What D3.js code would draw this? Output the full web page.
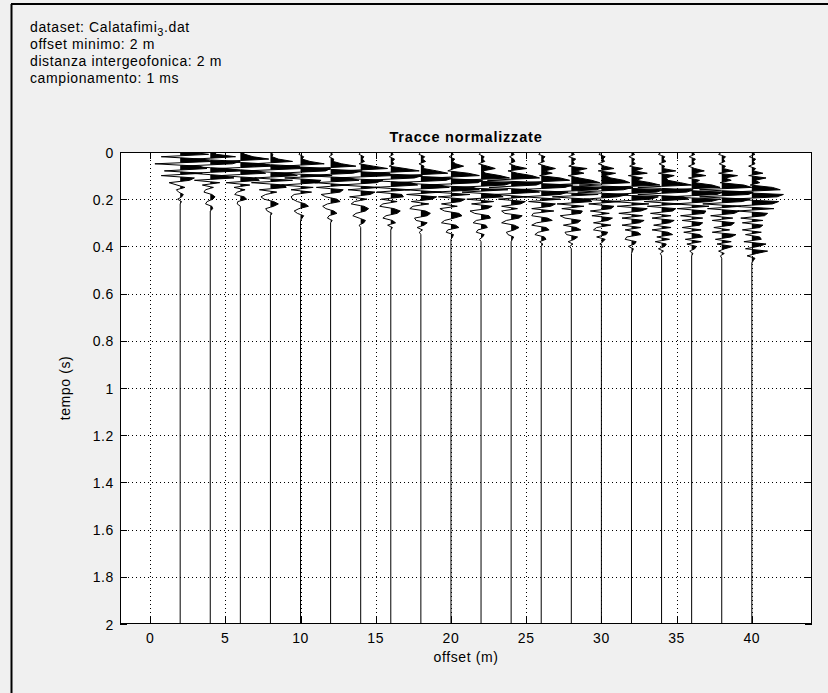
<!DOCTYPE html>
<html>
<head>
<meta charset="utf-8">
<script src="https://cdn.jsdelivr.net/npm/d3@7"></script>
<style>
html,body{margin:0;padding:0;background:#f0f0f0;}
svg{display:block;}
text{font-family:"Liberation Sans",Arial,sans-serif;fill:#000;}
</style>
</head>
<body>
<svg id="chart" width="828" height="693"></svg>
<script>
// ---- data ----
const infoLines = ["offset minimo: 2 m", "distanza intergeofonica: 2 m", "campionamento: 1 ms"];
const datasetName = "Calatafimi";
const datasetSub = "3";
const datasetExt = ".dat";
const titleText = "Tracce normalizzate";
const xLabel = "offset (m)";
const yLabel = "tempo (s)";
const xTicks = [0, 5, 10, 15, 20, 25, 30, 35, 40];
const yTicks = [0, 0.2, 0.4, 0.6, 0.8, 1, 1.2, 1.4, 1.6, 1.8, 2];
const xDomain = [-2, 44];
const yDomain = [0, 2];
const offsets = [2, 4, 6, 8, 10, 12, 14, 16, 18, 20, 22, 24, 26, 28, 30, 32, 34, 36, 38, 40];
const dt = 0.01;      // sample step of the arrays below (s)
const tMax = 2;       // record length (s)

// normalized amplitudes, one sample per dt from t = 0 (flat afterwards)
const tr02 = [0.3,0.9,-0.6,0.7,1.0,-0.8,0.6,0.85,-0.5,0.7,-0.6,0.45,0.3,-0.35,-0.1,0.15,-0.12,-0.05,0.1,0.05,-0.08,0.04,0];
const tr04 = [0.1,0.2,0.8,-0.5,0.95,0.7,-0.9,0.5,1.0,-0.6,0.4,0.75,-0.5,0.3,-0.25,0.1,-0.15,-0.2,0.05,0.15,0.08,-0.1,-0.15,0.05,0.08,0];
const tr06 = [0,0.15,0.4,0.9,-0.6,0.75,1.0,-0.7,0.55,0.8,-0.65,0.5,0.6,-0.45,0.3,-0.2,0.15,-0.1,-0.18,0.12,0.2,-0.08,-0.1,0];
const tr08 = [0,0.08,0.05,0.25,0.7,-0.55,0.9,1.0,-0.8,0.6,0.85,-0.5,0.7,-0.6,0.45,0.5,-0.35,0.2,-0.15,-0.3,-0.2,0.1,0.25,0.1,-0.15,-0.1,0.05,0];
const tr10 = [0,-0.05,0.1,0.05,0.3,0.75,-0.6,0.95,0.8,-0.7,1.0,-0.5,0.65,0.55,-0.6,0.4,-0.3,0.35,-0.2,-0.3,-0.25,-0.1,0.15,0.25,-0.05,-0.2,-0.1,0.1,0.05,0];
const tr12 = [0,0.06,-0.05,0.1,0.08,0.35,0.8,-0.6,1.0,0.7,-0.85,0.6,0.9,-0.5,0.55,-0.45,0.4,0.3,-0.3,-0.15,0.2,0.3,-0.1,-0.25,-0.15,0.1,0.2,-0.05,-0.1,0.05,0];
const tr14 = [0,-0.05,0.1,0.05,0.12,-0.05,0.4,0.85,-0.6,0.9,1.0,-0.8,0.7,0.5,-0.65,0.6,-0.4,0.45,0.3,-0.35,0.2,-0.2,-0.3,0.1,0.25,0.15,-0.15,-0.25,-0.05,0.15,0.1,-0.05,0];
const tr16 = [0,0.08,-0.05,0.12,0.05,0.1,-0.05,0.45,0.9,-0.7,1.0,0.75,-0.8,0.65,0.85,-0.5,0.6,-0.45,0.35,0.4,-0.3,0.2,-0.25,-0.35,0.1,0.3,0.2,-0.15,-0.25,0.05,0.15,-0.1,0.05,0];
const tr18 = [0,-0.06,0.12,0.05,0.15,-0.06,0.1,0.08,0.5,0.85,-0.6,1.0,0.8,-0.85,0.6,0.9,-0.5,0.65,-0.45,0.5,0.35,-0.3,0.25,-0.25,-0.35,0.15,0.3,0.2,-0.2,-0.15,0.2,0.1,-0.12,0.05,-0.05,0];
const tr20 = [0,0.08,-0.06,0.12,0.05,0.15,0.4,0.1,-0.1,0.55,0.9,-0.6,1.0,0.85,-0.8,0.7,0.9,-0.55,0.6,-0.4,0.45,0.3,-0.3,0.2,-0.35,-0.2,0.25,0.35,0.1,-0.2,-0.3,0.15,0.25,-0.1,-0.15,0.08,0.05,0];
const tr22 = [0,-0.06,0.1,0.05,0.12,-0.08,0.2,0.45,0.05,0.15,0.6,0.9,-0.7,1.0,0.75,-0.8,0.85,-0.6,0.55,0.7,-0.45,0.4,-0.3,0.35,0.2,-0.35,-0.2,0.25,0.3,-0.15,-0.25,0.15,0.2,-0.1,-0.15,0.1,0.05,-0.05,0];
const tr24 = [0,0.1,-0.05,0.08,0.12,-0.06,0.15,0.5,-0.1,0.2,0.65,0.9,-0.75,1.0,0.8,-0.7,0.6,0.9,-0.5,0.5,-0.4,0.45,0.3,-0.3,0.2,-0.3,-0.2,0.35,0.25,-0.15,-0.3,0.1,0.25,0.1,-0.15,-0.1,0.08,0.04,0];
const tr26 = [0,-0.08,0.12,0.05,0.1,-0.1,0.15,0.45,0.1,0.35,-0.05,0.6,0.9,-0.7,1.0,0.75,-0.8,0.85,0.6,-0.55,0.6,-0.4,0.45,0.3,-0.3,0.4,-0.25,-0.3,0.2,0.35,-0.15,-0.3,0.15,0.25,-0.1,-0.2,0.1,0.15,-0.05,0.05,0];
const tr28 = [0,0.1,-0.08,0.14,0.05,0.1,-0.08,0.5,0.15,0.4,-0.1,0.25,0.65,0.9,-0.75,1.0,0.8,-0.7,0.85,-0.6,0.55,0.65,-0.45,0.4,-0.3,0.35,0.3,-0.35,-0.2,0.3,0.2,-0.25,0.15,0.3,-0.2,-0.15,0.2,0.1,-0.1,0.05,-0.05,0];
const tr30 = [0,-0.08,0.12,0.05,0.1,-0.1,0.1,0.4,-0.1,0.45,0.1,0.3,0.7,0.9,-0.7,1.0,0.7,-0.75,0.85,0.5,-0.55,0.6,-0.4,0.4,0.3,-0.35,0.25,-0.3,0.35,0.2,-0.25,0.3,-0.15,-0.25,0.2,0.15,-0.15,0.12,0.05,-0.05,0.03,0];
const tr32 = [0,0.1,-0.08,0.1,0.05,0.12,-0.06,0.35,0.1,0.5,-0.1,0.35,0.15,0.6,0.9,-0.75,1.0,0.8,-0.7,0.85,0.6,-0.6,0.55,-0.45,0.5,0.3,-0.4,0.35,-0.3,0.4,0.25,-0.3,0.3,-0.2,0.2,0.3,-0.15,-0.2,0.15,0.1,-0.1,0.06,0.03,0];
const tr34 = [0,-0.1,0.1,0.05,0.14,-0.08,0.1,0.05,0.45,-0.1,0.4,0.15,0.2,0.6,0.95,-0.75,1.0,0.8,-0.75,0.7,0.85,-0.55,0.6,-0.45,0.45,0.35,-0.35,0.3,-0.3,0.4,0.25,-0.25,0.3,-0.3,0.2,0.35,-0.15,0.25,-0.2,0.15,0.1,-0.1,0.06,-0.04,0];
const tr36 = [0,0.1,-0.08,0.12,0.05,0.1,-0.1,0.1,0.4,0.05,0.45,-0.1,0.25,0.1,0.65,0.9,-0.75,1.0,0.8,-0.75,0.9,0.6,-0.55,0.55,-0.45,0.45,0.4,-0.35,0.35,-0.3,0.35,0.25,-0.3,0.3,-0.25,0.25,0.35,-0.2,0.3,-0.15,0.15,0.1,-0.06,0.04,0];
const tr38 = [0,-0.1,0.12,0.05,0.1,-0.08,0.12,0.05,0.35,-0.1,0.5,0.1,0.3,-0.05,0.7,0.95,-0.7,1.0,0.85,-0.7,0.9,0.65,-0.6,0.6,-0.45,0.55,0.4,-0.35,0.35,-0.3,0.4,0.3,-0.25,0.25,-0.3,0.45,0.3,-0.2,0.3,-0.15,0.35,0.1,-0.1,0.08,-0.04,0];
const tr40 = [0,0.1,-0.08,0.12,0.05,0.1,-0.1,0.12,0.05,0.35,-0.1,0.45,0.1,0.25,-0.05,0.65,0.9,-0.7,1.0,0.8,-0.7,0.85,0.65,-0.6,0.7,-0.45,0.5,0.4,-0.35,0.35,-0.3,0.35,0.25,-0.3,0.3,-0.2,0.25,0.3,-0.25,0.45,0.2,-0.2,0.5,0.15,-0.15,0.1,0.05,0];
const traces = [tr02,tr04,tr06,tr08,tr10,tr12,tr14,tr16,tr18,tr20,tr22,tr24,tr26,tr28,tr30,tr32,tr34,tr36,tr38,tr40];

// ---- layout / style ----
const gain = 2.1; // metres of deflection per unit of normalized amplitude
const P = {left:120, right:812, top:152, bottom:624};
const FS = 14, LS = 0.6;

const svg = d3.select("#chart");
svg.append("rect").attr("x",0).attr("y",0).attr("width",828).attr("height",693).attr("fill","#f0f0f0");
// figure frame (left/top visible)
svg.append("line").attr("x1",11.5).attr("x2",11.5).attr("y1",4).attr("y2",693).attr("stroke","#000").attr("stroke-width",2);
svg.append("line").attr("x1",11).attr("x2",828).attr("y1",4).attr("y2",4).attr("stroke","#000").attr("stroke-width",2);

const x = d3.scaleLinear().domain(xDomain).range([P.left, P.right]);
const y = d3.scaleLinear().domain(yDomain).range([P.top, P.bottom]);

// info text
const info = svg.append("g").attr("font-size", FS).attr("letter-spacing", LS);
const t1 = info.append("text").attr("x", 30).attr("y", 32);
t1.append("tspan").text("dataset: " + datasetName);
t1.append("tspan").attr("dy", 4).attr("font-size", 11).text(datasetSub);
t1.append("tspan").attr("dy", -4).text(datasetExt);
infoLines.forEach((s,i) => info.append("text").attr("x",30).attr("y",49 + i*17).text(s));

// plot background
svg.append("rect").attr("x",P.left).attr("y",P.top).attr("width",P.right-P.left).attr("height",P.bottom-P.top).attr("fill","#fff");

svg.append("clipPath").attr("id","clip").append("rect")
  .attr("x",P.left).attr("y",P.top).attr("width",P.right-P.left).attr("height",P.bottom-P.top);

// grid
const grid = svg.append("g").attr("stroke","#000").attr("stroke-width",1).attr("stroke-dasharray","1,3").attr("fill","none");
xTicks.forEach(v => grid.append("line").attr("x1",Math.round(x(v))+0.5).attr("x2",Math.round(x(v))+0.5).attr("y1",P.top).attr("y2",P.bottom));
yTicks.slice(1,-1).forEach(v => grid.append("line").attr("y1",Math.round(y(v))+0.5).attr("y2",Math.round(y(v))+0.5).attr("x1",P.left).attr("x2",P.right));

// traces
const plot = svg.append("g").attr("clip-path","url(#clip)");
const line = d3.line().x(d => x(d.o + d.v*gain)).y(d => y(d.t));
traces.forEach((arr, k) => {
  const o = offsets[k];
  const pts = [];
  for (let i = 0; i < arr.length; i++) {
    const v = arr[i], t = i*dt;
    pts.push({o, v, t});
    if (i < arr.length-1) {
      const w = arr[i+1];
      if (v*w < 0) pts.push({o, v:0, t: t + dt*v/(v-w)});
    }
  }
  pts.push({o, v:0, t:tMax});
  const area = d3.area()
    .x0(d => x(d.o))
    .x1(d => x(d.o + Math.max(0,d.v)*gain))
    .y(d => y(d.t));
  plot.append("path").attr("d", area(pts)).attr("fill","#000").attr("stroke","none");
  plot.append("path").attr("d", line(pts)).attr("fill","none").attr("stroke","#000").attr("stroke-width",1);
});

// axes box
svg.append("rect").attr("x",P.left+0.5).attr("y",P.top+0.5).attr("width",P.right-P.left-1).attr("height",P.bottom-P.top-1)
  .attr("fill","none").attr("stroke","#000").attr("stroke-width",1);

// ticks (inside) and labels
const tl = 7;
const tk = svg.append("g").attr("stroke","#000").attr("stroke-width",1);
xTicks.forEach(v => {
  const xx = Math.round(x(v))+0.5;
  tk.append("line").attr("x1",xx).attr("x2",xx).attr("y1",P.bottom).attr("y2",P.bottom-tl);
  tk.append("line").attr("x1",xx).attr("x2",xx).attr("y1",P.top).attr("y2",P.top+tl);
});
yTicks.forEach(v => {
  const yy = Math.round(y(v))+0.5;
  tk.append("line").attr("x1",P.left).attr("x2",P.left+tl).attr("y1",yy).attr("y2",yy);
  tk.append("line").attr("x1",P.right).attr("x2",P.right-tl).attr("y1",yy).attr("y2",yy);
});
const lab = svg.append("g").attr("font-size",FS).attr("letter-spacing",LS);
xTicks.forEach(v => lab.append("text").attr("x",x(v)).attr("y",P.bottom+19).attr("text-anchor","middle").text(d3.format("")(v)));
yTicks.forEach(v => lab.append("text").attr("x",P.left-6).attr("y",y(v)+5.5).attr("text-anchor","end").text(d3.format("")(v)));

svg.append("text").attr("x",(P.left+P.right)/2).attr("y",P.bottom+38).attr("text-anchor","middle")
  .attr("font-size",FS).attr("letter-spacing",LS).text(xLabel);
svg.append("text").attr("transform",`translate(70,${(P.top+P.bottom)/2}) rotate(-90)`).attr("text-anchor","middle")
  .attr("font-size",FS).attr("letter-spacing",LS).text(yLabel);
svg.append("text").attr("x",(P.left+P.right)/2).attr("y",P.top-10).attr("text-anchor","middle")
  .attr("font-size",14.5).attr("letter-spacing",0.8).attr("font-weight","bold").text(titleText);
</script>
</body>
</html>
